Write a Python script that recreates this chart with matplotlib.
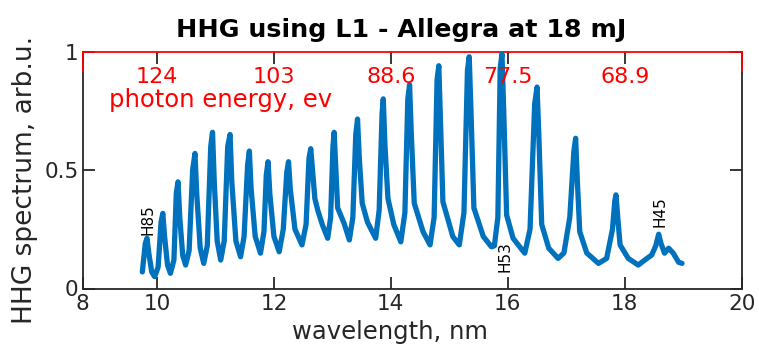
import matplotlib
matplotlib.use("Agg")
import matplotlib.pyplot as plt

# ---------------- data ----------------
wavelength_nm = [
    9.75, 9.80, 9.83, 9.86, 9.91, 9.96, 10.02, 10.07, 10.10, 10.13, 10.18, 10.23,
    10.29, 10.33, 10.36, 10.39, 10.44, 10.49, 10.55, 10.61, 10.65, 10.68, 10.74, 10.80,
    10.86, 10.92, 10.95, 10.98, 11.03, 11.09, 11.15, 11.21, 11.25, 11.28, 11.35, 11.43,
    11.49, 11.55, 11.58, 11.61, 11.68, 11.77, 11.83, 11.87, 11.90, 11.93, 12.00, 12.09,
    12.16, 12.22, 12.25, 12.28, 12.36, 12.48, 12.55, 12.60, 12.63, 12.66, 12.70, 12.75,
    12.83, 12.92, 12.97, 13.01, 13.03, 13.06, 13.09, 13.20, 13.29, 13.35, 13.40, 13.43,
    13.46, 13.51, 13.60, 13.74, 13.80, 13.85, 13.87, 13.90, 13.95, 14.05, 14.17, 14.24,
    14.29, 14.32, 14.35, 14.40, 14.55, 14.67, 14.74, 14.79, 14.82, 14.85, 14.89, 15.06,
    15.17, 15.25, 15.31, 15.34, 15.37, 15.42, 15.58, 15.72, 15.77, 15.83, 15.87, 15.90,
    15.93, 15.98, 16.09, 16.29, 16.38, 16.46, 16.50, 16.53, 16.58, 16.70, 16.86, 16.96,
    17.06, 17.13, 17.16, 17.19, 17.23, 17.35, 17.55, 17.69, 17.79, 17.83, 17.85, 17.88,
    17.92, 18.06, 18.23, 18.38, 18.46, 18.53, 18.58, 18.62, 18.68, 18.75, 18.83, 18.92,
    18.98,
]
hhg_spectrum = [
    0.070, 0.190, 0.212, 0.150, 0.070, 0.050, 0.090, 0.280, 0.317, 0.220, 0.100, 0.064,
    0.120, 0.400, 0.450, 0.300, 0.140, 0.099, 0.160, 0.500, 0.570, 0.400, 0.170, 0.106,
    0.180, 0.600, 0.659, 0.450, 0.200, 0.120, 0.200, 0.600, 0.650, 0.450, 0.200, 0.134,
    0.220, 0.520, 0.580, 0.420, 0.220, 0.149, 0.240, 0.480, 0.535, 0.400, 0.220, 0.155,
    0.250, 0.490, 0.535, 0.420, 0.250, 0.184, 0.270, 0.550, 0.590, 0.500, 0.380, 0.330,
    0.268, 0.212, 0.300, 0.600, 0.659, 0.500, 0.340, 0.275, 0.205, 0.300, 0.650, 0.715,
    0.550, 0.360, 0.280, 0.212, 0.330, 0.740, 0.800, 0.600, 0.380, 0.270, 0.197, 0.320,
    0.800, 0.860, 0.650, 0.360, 0.240, 0.184, 0.300, 0.880, 0.940, 0.700, 0.366, 0.219,
    0.184, 0.320, 0.920, 0.978, 0.750, 0.340, 0.220, 0.176, 0.180, 0.300, 0.930, 0.990,
    0.750, 0.310, 0.212, 0.149, 0.250, 0.780, 0.850, 0.650, 0.270, 0.170, 0.127, 0.150,
    0.300, 0.580, 0.634, 0.450, 0.240, 0.150, 0.106, 0.127, 0.250, 0.370, 0.395, 0.300,
    0.184, 0.127, 0.099, 0.127, 0.141, 0.180, 0.229, 0.190, 0.149, 0.170, 0.149, 0.111,
    0.106,
]

x_ticks = [8.73, 10, 12, 14, 16, 18, 20]
x_tick_labels = ["8", "10", "12", "14", "16", "18", "20"]
y_ticks = [0, 0.5, 1]
y_tick_labels = ["0", "0.5", "1"]

energy_tick_nm = [10, 12, 14, 16, 18]
energy_tick_labels = ["124", "103", "88.6", "77.5", "68.9"]

harmonic_labels = ["H85", "H53", "H45"]
harmonic_x = [9.85, 15.96, 18.60]
harmonic_y = [0.29, 0.133, 0.323]

title = "HHG using L1 - Allegra at 18 mJ"
xlabel = "wavelength, nm"
ylabel = "HHG spectrum, arb.u."
energy_axis_label = "photon energy, ev"

# ---------------- figure ----------------
W, H = 759, 349
fig = plt.figure(figsize=(W / 100, H / 100), dpi=100)
ax_l, ax_r, ax_t, ax_b = 82.7, 741.7, 51.5, 288.5
ax = fig.add_axes([ax_l / W, 1 - ax_b / H, (ax_r - ax_l) / W, (ax_b - ax_t) / H])

dark = "#262626"
blue = "#0072BD"
red = "#FF0000"

ax.plot(wavelength_nm, hhg_spectrum, color=blue, lw=3.8, solid_joinstyle="round",
        solid_capstyle="round", clip_on=False, zorder=3)

ax.set_xlim(8.73, 20)
ax.set_ylim(0, 1)
ax.set_xticks(x_ticks)
ax.set_xticklabels(x_tick_labels)
ax.set_yticks(y_ticks)
ax.set_yticklabels(y_tick_labels)

ax.tick_params(axis="both", direction="in", length=8.5, width=1.3, color=dark,
               labelcolor=dark, labelsize=15.5)
ax.tick_params(axis="x", top=True, pad=4)
ax.tick_params(axis="y", right=True, pad=3)
for t in ax.xaxis.get_major_ticks():
    t.tick2line.set_color(red)

for s in ["left", "right", "bottom"]:
    ax.spines[s].set_color(dark)
    ax.spines[s].set_linewidth(1.3)
ax.spines["top"].set_color(red)
ax.spines["top"].set_linewidth(1.3)
seg = 19 / (ax_b - ax_t)
for xa in (0, 1):
    ax.plot([xa, xa], [1 - seg, 1], transform=ax.transAxes, color=red, lw=1.3,
            clip_on=False, zorder=5, solid_capstyle="projecting")

# energy labels inside the top of the axes
for xv, lab in zip(energy_tick_nm, energy_tick_labels):
    ax.text(xv, 0.893, lab, color=red, fontsize=16, ha="center", va="center")
ax.text(9.18, 0.795, energy_axis_label, color=red, fontsize=17.5, ha="left", va="center")

for lab, xv, yv in zip(harmonic_labels, harmonic_x, harmonic_y):
    ax.text(xv, yv, lab, rotation=90, fontsize=11, ha="center", va="center", color="black")

fig.text(401 / W, 1 - 30 / H, title, ha="center", va="center", fontsize=18.3,
         fontweight="bold", color="black")
fig.text(390 / W, 1 - 332 / H, xlabel, ha="center", va="center", fontsize=17.5, color=dark)
fig.text(25 / W, 1 - 179.5 / H, ylabel, ha="center", va="center", fontsize=19,
         rotation=90, color=dark)

fig.savefig("out.png", dpi=100)
